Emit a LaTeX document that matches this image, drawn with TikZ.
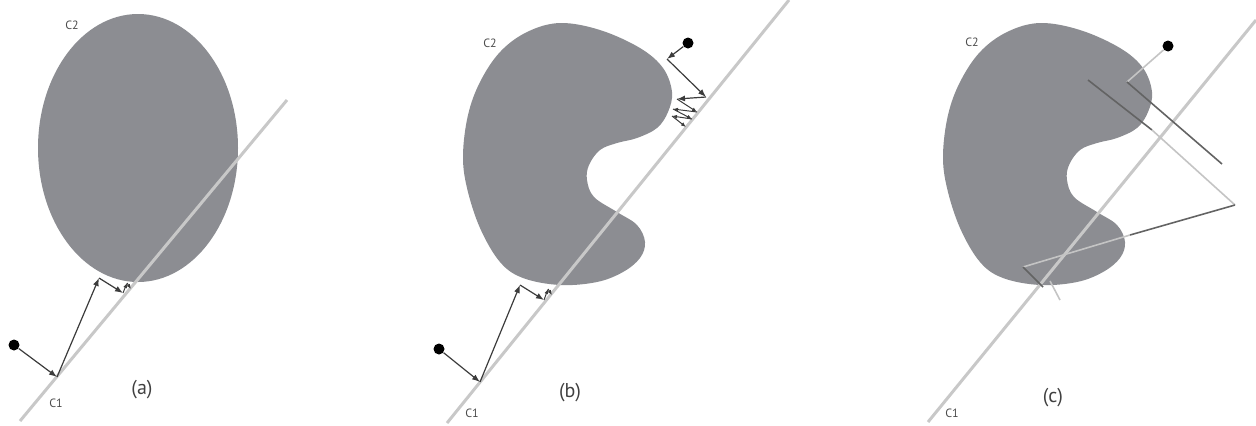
\documentclass[tikz,border=0pt]{standalone}
\usepackage{fontspec}
\setmainfont{PT Sans}
\usetikzlibrary{arrows.meta, positioning, calc}
\definecolor{bodygray}{HTML}{8C8D92}
\definecolor{railgray}{HTML}{C8C8C8}
\definecolor{raydark}{HTML}{3C3C3C}
\definecolor{raylight}{HTML}{C4C4C4}
\tikzset{
  % Obstacle and wall
  obstacle/.style={fill=bodygray, draw=none},
  rail/.style={draw=railgray, line width=1.5pt},
  % Rays
  ray/.style={-{Latex[length=4pt, width=3pt]}, draw=raydark, line width=0.6pt},
  tinyray/.style={-{Latex[length=2.5pt, width=2pt]}, draw=raydark, line width=0.5pt},
  beamdark/.style={draw=raydark!80, line width=0.8pt},
  beamlight/.style={draw=raylight, line width=0.8pt},
  % Robot
  robot/.style={circle, fill=black, inner sep=0pt, minimum size=5.5pt},
  % Labels
  tag/.style={font=\fontsize{6}{7}\selectfont, text=black!70},
  caption/.style={font=\fontsize{10}{12}\selectfont, text=black!75},
}
% kidney-shaped obstacle, drawn at panel (b) position
\newcommand{\kidneyshape}{plot[smooth cycle, tension=0.6] coordinates {
  (560,23) (600,30) (640,48) (663,68) (672,92) (668,112) (657,128) (637,138)
  (617,143) (600,150) (589,165) (587,180) (594,197) (617,212) (637,225)
  (645,242) (640,258) (623,272) (597,282) (560,285) (523,278) (500,262)
  (480,228) (467,188) (463,155) (468,115) (480,82) (500,52) (527,32)}}

\begin{document}
\begin{tikzpicture}[x=0.5pt, y=-0.5pt]
  \useasboundingbox (0,0) rectangle (1256,425);

  % Panel (a)
  \fill[obstacle] (138,148) ellipse [x radius=100, y radius=134];
  \coordinate (railA0) at (20,421);
  \coordinate (railA1) at (287,100);
  \draw[rail] (railA0) -- (railA1);
  \node[robot] (robotA) at (14,345) {};
  \coordinate (hitA0) at (57,377);
  \coordinate (hitA1) at (99,278);
  \coordinate (hitA2) at (123,293);
  \coordinate (hitA3) at (127,283);
  \coordinate (hitA4) at (131,289);
  \draw[ray] (robotA) -- (hitA0);
  \draw[ray] (hitA0) -- (hitA1);
  \draw[ray] (hitA1) -- (hitA2);
  \draw[tinyray] (hitA2) -- (hitA3);
  \draw[tinyray] (hitA3) -- (hitA4);
  \node[tag] (c2A) at (72,25) {C2};
  \node[tag] (c1A) at (56,403) {C1};
  \node[caption] (capA) at (142,390) {(a)};

  % Panel (b)
  \fill[obstacle] \kidneyshape;
  \coordinate (railB0) at (447,423);
  \coordinate (railB1) at (789,0);
  \draw[rail] (railB0) -- (railB1);
  \node[robot] (robotB) at (439,349) {};
  \coordinate (hitB0) at (480,382);
  \coordinate (hitB1) at (520,285);
  \coordinate (hitB2) at (544,300);
  \coordinate (hitB3) at (548,289);
  \coordinate (hitB4) at (552,295);
  \draw[ray] (robotB) -- (hitB0);
  \draw[ray] (hitB0) -- (hitB1);
  \draw[ray] (hitB1) -- (hitB2);
  \draw[tinyray] (hitB2) -- (hitB3);
  \draw[tinyray] (hitB3) -- (hitB4);
  \node[robot] (robotBt) at (688,43) {};
  \coordinate (topB0) at (667,59);
  \coordinate (topB1) at (706,97);
  \coordinate (topB2) at (677,99);
  \coordinate (topB3) at (697,112);
  \coordinate (topB4) at (673,109);
  \coordinate (topB5) at (692,119);
  \coordinate (topB6) at (672,116);
  \coordinate (topB7) at (686,127);
  \draw[ray] (robotBt) -- (topB0);
  \draw[ray] (topB0) -- (topB1);
  \draw[ray] (topB1) -- (topB2);
  \draw[tinyray] (topB2) -- (topB3);
  \draw[tinyray] (topB3) -- (topB4);
  \draw[tinyray] (topB4) -- (topB5);
  \draw[tinyray] (topB5) -- (topB6);
  \draw[tinyray] (topB6) -- (topB7);
  \node[tag] (c2B) at (490,43) {C2};
  \node[tag] (c1B) at (472,413) {C1};
  \node[caption] (capB) at (570,393) {(b)};

  % Panel (c)
  \begin{scope}[shift={(480,0)}]
    \fill[obstacle] \kidneyshape;
  \end{scope}
  \coordinate (railC0) at (928,422);
  \coordinate (railC1) at (1256,20);
  \draw[rail] (railC0) -- (railC1);
  \node[robot] (robotC) at (1168,46) {};
  \coordinate (beamC0) at (1127,82);
  \coordinate (beamC1) at (1222,164);
  \coordinate (beamC2) at (1088,80);
  \coordinate (beamC3) at (1152,130);
  \coordinate (beamC4) at (1235,205);
  \coordinate (beamC5) at (1130,235);
  \coordinate (beamC6) at (1023,267);
  \coordinate (beamC7) at (1043,287);
  \coordinate (beamC8) at (1050,281);
  \coordinate (beamC9) at (1060,300);
  \draw[beamlight] (robotC) -- (beamC0);
  \draw[beamdark] (beamC0) -- (beamC1);
  \draw[beamdark] (beamC2) -- (beamC3);
  \draw[beamlight] (beamC3) -- (beamC4);
  \draw[beamdark] (beamC4) -- (beamC5);
  \draw[beamlight] (beamC5) -- (beamC6);
  \draw[beamdark] (beamC6) -- (beamC7);
  \draw[beamlight] (beamC8) -- (beamC9);
  \node[tag] (c2C) at (972,42) {C2};
  \node[tag] (c1C) at (952,413) {C1};
  \node[caption] (capC) at (1053,398) {(c)};
\end{tikzpicture}
\end{document}
